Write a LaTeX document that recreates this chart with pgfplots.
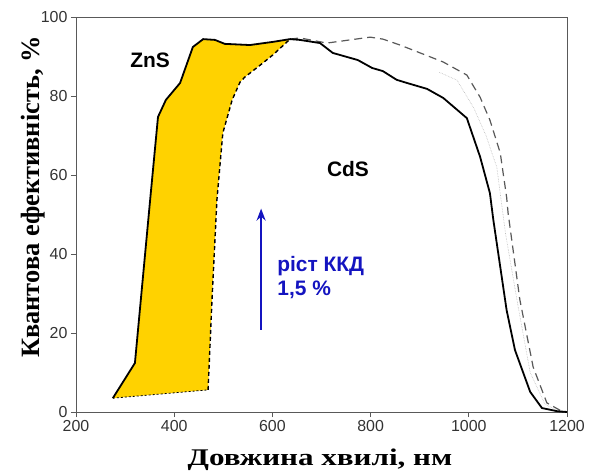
\documentclass[border=0pt]{standalone}
\usepackage{fontspec}
\setmainfont{Liberation Serif}
\setsansfont{Liberation Sans}
\usepackage{pgfplots}
\pgfplotsset{compat=1.18}
\usetikzlibrary{calc,arrows.meta}
\definecolor{znsfill}{HTML}{FFD200}
\definecolor{kkd}{HTML}{1414C0}
\definecolor{ticktxt}{HTML}{333333}

\begin{document}
\begin{tikzpicture}
\begin{axis}[
  scale only axis,
  width=491bp, height=395bp,
  xmin=200, xmax=1200, ymin=0, ymax=100,
  xtick={200,400,...,1200}, ytick={0,20,...,100},
  tick align=outside, major tick length=5bp,
  xtick pos=bottom, ytick pos=left,
  axis line style={gray!70!black, line width=0.9bp},
  tick style={gray!70!black, line width=0.9bp},
  /pgf/number format/assume math mode=true,
  /pgf/number format/1000 sep={},
  ticklabel style={font=\sffamily\fontsize{16}{18}\selectfont, text=ticktxt},
  xlabel={\bfseries\fontsize{24}{26}\selectfont Довжина хвилі, нм},
  ylabel={\bfseries\fontsize{26.5}{28}\selectfont Квантова ефективність, \%},
  xlabel style={at={(axis description cs:0.497,0)}, anchor=center, yshift=-48bp, xscale=1.3},
  every axis y label/.append style={at={(axis description cs:-0.088,0.544)}, anchor=center},
  clip=false,
]
% yellow region between ZnS and CdS window curves
\addplot[fill=znsfill, draw=none] coordinates {
  (275,3.5)(320,12.4)(351,53.7)(367,74.7)(383,79)(412,83.3)(438,92.4)
  (459,94.4)(483,94.2)(503,93.2)(554,92.9)(601,93.7)(636,94.4)
  (601,90.4)(575,87.8)(544,84.8)(534,83.5)(518,79)(499,70.6)(487,53.7)
  (477,28.4)(469,5.6)
};
% faint dotted curve
\addplot[gray!55, densely dotted, line width=0.6bp] coordinates {
  (940,86)(976,84)(1010,77)(1035,70)(1057,62)(1075,45)(1100,27)
  (1125,10)(1155,2)(1185,0)
};
% gray dashed curve
\addplot[black!65, dash pattern=on 8bp off 5bp, line width=1.2bp] coordinates {
  (636,94.4)(656,94.7)(711,93.4)(758,94.2)(799,94.9)(825,94.4)(860,92.9)
  (901,90.9)(948,88.6)(996,85.3)(1023,79.7)(1043,73.9)(1064,65.6)
  (1077,54.4)(1080,50.4)(1104,28.4)(1131,11.4)(1159,2.3)(1192,0)(1200,0)
};
% black dashed boundary of yellow region
\addplot[black, dash pattern=on 4bp off 3bp, line width=1.4bp] coordinates {
  (469,5.6)(477,28.4)(487,53.7)(499,70.6)(518,79)(534,83.5)(544,84.8)
  (575,87.8)(601,90.4)(636,94.4)
};
\addplot[black, dash pattern=on 2bp off 2bp, line width=0.8bp] coordinates {(275,3.5)(469,5.6)};
% solid curve
\addplot[black, line width=1.8bp] coordinates {
  (275,3.5)(320,12.4)(351,53.7)(367,74.7)(383,79)(412,83.3)(438,92.4)
  (459,94.4)(483,94.2)(503,93.2)(554,92.9)(601,93.7)(636,94.4)(656,94.2)
  (697,93.4)(723,90.9)(774,89.1)(803,87.1)(825,86.3)(853,84.1)(874,83.3)
  (915,81.8)(948,79.5)(996,74.4)(1023,64.6)(1043,55.4)(1050,48.6)
  (1077,25.8)(1094,15.7)(1125,5.1)(1149,1.0)(1180,0.2)(1200,0)
};
\node[font=\sffamily\bfseries\fontsize{21}{23}\selectfont] at (axis cs:351,89) {ZnS};
\node[font=\sffamily\bfseries\fontsize{21}{23}\selectfont] at (axis cs:754,61.5) {CdS};
\draw[kkd, line width=2bp, -{Stealth[length=12bp,width=9bp]}] (axis cs:577,20.8) -- (axis cs:577,51.5);
\node[kkd, anchor=west, align=left, font=\sffamily\bfseries\fontsize{21}{24}\selectfont]
  at (axis cs:603,34) {ріст ККД\\1,5 \%};
\end{axis}
\pgfresetboundingbox
\path[use as bounding box] ($(current axis.south west)+(-76bp,-62bp)$)
  rectangle ($(current axis.north east)+(25bp,17bp)$);
\end{tikzpicture}
\end{document}
